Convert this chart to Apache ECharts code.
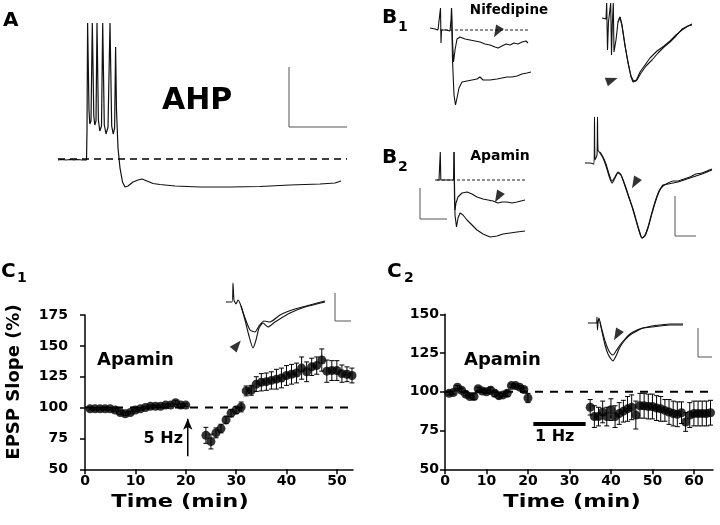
<!DOCTYPE html>
<html><head><meta charset="utf-8">
<script src="https://cdn.jsdelivr.net/npm/echarts@6/dist/echarts.min.js"></script>
<style>html,body{margin:0;padding:0;background:#fff}#c{width:720px;height:525px}</style>
</head><body><div id="c"></div>
<script>
// ---------- Panel C1 (5 Hz, apamin) ----------
const c1Time = [1,2,3,4,5,6,7,8,9,10,11,12,13,14,15,16,17,18,19,20,
  24,25,26,27,28,29,30,31,32,33,34,35,36,37,38,39,40,41,42,43,44,45,46,47,48,49,50,51,52,53];
const c1Slope = [99,99,99,99,99,98,96,95,96,98,99,100,101,101,101,102,102,104,102,102,
  77.5,72.5,79.5,83,90,95.5,98,100.5,113.5,114,119,120.5,121,122,123,124,126,127,128,132,129,133,134,138.5,129.5,130,130,127.5,127,126];
const c1Err = [1,1,1,1,1,1,1.5,1.5,1,1,1,1,1,1,1,1,1,1.5,1,1,
  6.5,6,4,3.5,3,3,3,4,4,4,6,7,7,7,8,8,8,8,8,9,8,7,7,9,9,8,8,7,6,6];
const c1XTicks = [0,10,20,30,40,50];
const c1YTicks = [50,75,100,125,150,175];
const c1Stim = {time:20.4, from:60.5, to:91};

// ---------- Panel C2 (1 Hz, apamin) ----------
const c2Time = [1,2,3,4,5,6,7,8,9,10,11,12,13,14,15,16,17,18,19,20,
  35,36,37,38,39,40,41,42,43,44,45,46,47,48,49,50,51,52,53,54,55,56,57,58,59,60,61,62,63,64];
const c2Slope = [99,99.5,103,101,98.5,97,97,102,100.5,100,101,99,97.5,98,99,104,104,103,101.5,96,
  90,84,84,87,84,88.5,84,86,87.5,89,90,85,91,91,90.5,90.5,89.5,89,88,87,86,85.5,86.5,80.5,85,86,86,86,86,86.5];
const c2Err = [1,1,1,1,1,1,2,1,1,1,2,2,2,1,2,1,1,1,1,3,
  5,7,6,7,6,7,7,7,7,8,8,9,8,8,8,8,8,8,7,8,8,8,7,6,8,8,8,8,8,8];
const c2XTicks = [0,10,20,30,40,50,60];
const c2YTicks = [50,75,100,125,150];
const c2Stim = {from:21.3, to:33.9, level:79.2};

// ---------- Illustrative traces (sampled from the figure, page units) ----------
const traceA = [[58,160],[62,159.5],[66,160],[70,159.5],[74,160],[78,159.5],[82,160],[86.5,160],[87,130],[87.6,23],[88.3,23],[89,110],[89.8,124],[91,121],[92.3,23],[93,23],[93.8,116],[94.8,125],[96,121],[97,23],[97.7,23],[98.4,120],[99.8,131],[101.5,126],[102.7,23],[103.4,23],[104.3,125],[106,134],[108,127],[110,23],[110.8,23],[111.7,126],[113.2,134],[114.6,128],[115.6,47],[116.5,110],[118,148],[120,168],[122.5,182],[125,187],[128,186],[133,182],[138,180],[142,179],[147,181],[153,183.5],[160,184.5],[175,186],[200,187],[230,187],[260,186.5],[290,185],[320,184],[335,183],[341,181]];
const traceB1a = [[430,28],[435,29],[438,30],[440,30],[440.5,8],[441,43],[441.5,30],[446,30],[450,31],[451,20],[451.5,8],[452.5,40],[453.5,62],[455,50],[457,39],[460,37],[465,39],[470,40],[475,41],[480,42],[485,44],[490,45],[495,47],[498,48],[502,46],[506,44],[510,45],[514,43],[518,44],[522,42],[526,41],[528,43]];
const traceB1b = [[451.5,8],[452.5,60],[454,95],[455.5,105],[457,98],[459,88],[462,82],[467,81],[472,80],[477,79],[480,77],[483,80],[490,80],[497,79],[502,78],[507,77],[512,77],[517,76],[522,74],[527,73],[531,72]];
const traceB1c = [[602,18],[606,19],[606.7,3],[607.5,50],[608.5,22],[610.7,3],[611.5,55],[612.3,25],[613.3,3],[614,52],[616,40],[618,22],[620,17],[622,25],[625,45],[628,63],[631,77],[633,82],[636,81],[640,72],[645,65],[650,58],[657,51],[664,46],[670,41],[676,35],[682,30],[688,26],[692,25]];
const traceB1d = [[618,22],[620,17],[622,26],[625,46],[628,62],[631,76],[633.5,81],[637,80],[641,73],[646,66],[652,60],[658,53],[664,47],[670,42],[676,36],[682,29],[688,26],[692,24]];
const traceB2a = [[435,180],[439,180],[440,180],[440.3,152],[440.8,180],[444,180],[450,180],[453.5,180],[454,152],[454.5,200],[455,210],[456,203],[458,197],[462,193],[467,192],[472,194],[477,197],[483,199],[488,200],[493,201],[498,203],[502,202],[507,202],[512,203],[517,202],[521,201],[525,200]];
const traceB2b = [[454,152],[455,215],[456.5,227],[458,218],[460,213],[463,215],[467,220],[472,225],[477,230],[483,234],[490,237],[497,236],[503,234],[510,233],[517,232],[525,231]];
const traceB2c = [[585,163],[590,163],[594,164],[594.5,117],[595,160],[597,155],[597.5,117],[598,150],[600,153],[603,158],[606,166],[609,176],[612,183],[615,178],[618,173],[621,175],[625,185],[629,197],[633,209],[637,223],[640,233],[642,238],[645,236],[648,228],[651,217],[655,203],[659,192],[663,185],[668,184],[673,183],[678,182],[684,180],[690,178],[696,176],[702,174],[707,172],[712,170]];
const traceB2d = [[600,152],[603,157],[606,164],[609,174],[612,181],[615,177],[618,172],[621,175],[625,186],[629,198],[633,210],[637,224],[640,234],[642,238],[645,235],[648,227],[651,216],[655,202],[659,191],[663,186],[668,183],[673,181],[678,181],[684,179],[690,177],[696,174],[702,173],[707,171],[712,169]];
const traceC1a = [[226,302],[232,302],[233,283],[234,300],[236,304],[238,300],[241,306],[245,320],[249,336],[253,348],[256,340],[259,328],[263,323],[268,327],[275,322],[290,313],[305,307],[325,302]];
const traceC1b = [[241,306],[245,318],[250,330],[255,332],[259,326],[264,321],[270,322],[280,315],[295,309],[310,305],[325,301]];
const traceC2a = [[588,323],[594,323],[596.5,323],[597,317],[597.5,330],[598,323],[599,318],[600,322],[602,332],[605,345],[608,354],[611,359],[613,361],[616,356],[620,347],[625,340],[630,335],[637,331],[643,328],[652,327],[660,326],[670,325],[683,325]];
const traceC2b = [[600,322],[602,330],[605,341],[608,349],[611,354],[613,355],[616,351],[620,345],[625,339],[630,334],[637,330],[643,328],[652,326],[660,325],[670,324],[683,324]];
const dashA = [[58,159],[347,159]];
const dashB1 = [[440,30],[528,30]];
const dashB2 = [[437,180],[527,180]];
const scaleBars = [
  [[289,67],[289,127],[347,127]],
  [[420,188],[420,219],[447,219]],
  [[675,196],[675,236],[696,236]],
  [[335,293],[335,321],[351,321]],
  [[698,328],[698,357],[712,357]]
];
const arrowHeads = [[497,32,150],[612,80,-70],[498,197,150],[635,183,150],[237,345,-40],[617,335,150]];

const FONT = 'DejaVu Sans';
const chart = echarts.init(document.getElementById('c'), null, {renderer:'canvas'});

function axisBase(extra){
  return Object.assign({
    type:'value',
    axisLine:{show:true,lineStyle:{color:'#000',width:1.5}},
    axisTick:{show:true,inside:false,length:5,lineStyle:{color:'#000',width:1.5}},
    axisLabel:{color:'#000',fontFamily:FONT,fontWeight:'bold',fontSize:14},
    splitLine:{show:false}
  }, extra);
}

function errRender(params, api){
  const x = api.value(0), v = api.value(1), e = api.value(2);
  const t = api.coord([x, v+e]), b = api.coord([x, v-e]);
  const hw = 2.5, st = {stroke:'#000', lineWidth:1};
  return {type:'group', children:[
    {type:'line', shape:{x1:t[0],y1:t[1],x2:b[0],y2:b[1]}, style:st},
    {type:'line', shape:{x1:t[0]-hw,y1:t[1],x2:t[0]+hw,y2:t[1]}, style:st},
    {type:'line', shape:{x1:b[0]-hw,y1:b[1],x2:b[0]+hw,y2:b[1]}, style:st}
  ]};
}

const c1Pts = c1Time.map((t,i)=>[t,c1Slope[i],c1Err[i]]);
const c2Pts = c2Time.map((t,i)=>[t,c2Slope[i],c2Err[i]]);

function traceSeries(data, opts){
  return Object.assign({type:'line', xAxisIndex:2, yAxisIndex:2, data:data, showSymbol:false, symbol:'none',
    lineStyle:{color:'#111', width:1.1}, silent:true, z:3, animation:false}, opts||{});
}

const series = [
  // C1
  {type:'line', xAxisIndex:0, yAxisIndex:0, data:[[0,100],[53.2,100]], symbol:'none',
    lineStyle:{color:'#000', width:2, type:[8,7]}, z:1},
  {type:'custom', xAxisIndex:0, yAxisIndex:0, data:c1Pts, renderItem:errRender, z:2, encode:{x:0,y:1}},
  {type:'scatter', xAxisIndex:0, yAxisIndex:0, data:c1Pts, symbol:'circle', symbolSize:9,
    itemStyle:{color:'#000'}, z:3, encode:{x:0,y:1}},
  {type:'line', xAxisIndex:0, yAxisIndex:0,
    data:[{value:[c1Stim.time,c1Stim.from],symbol:'none'},{value:[c1Stim.time,c1Stim.to],symbol:'arrow',symbolSize:[7,11]}],
    showSymbol:true, lineStyle:{color:'#000', width:1.5}, itemStyle:{color:'#000'}, z:3},
  // C2
  {type:'line', xAxisIndex:1, yAxisIndex:1, data:[[0,100],[64.6,100]], symbol:'none',
    lineStyle:{color:'#000', width:2, type:[8,7]}, z:1},
  {type:'custom', xAxisIndex:1, yAxisIndex:1, data:c2Pts, renderItem:errRender, z:2, encode:{x:0,y:1}},
  {type:'scatter', xAxisIndex:1, yAxisIndex:1, data:c2Pts, symbol:'circle', symbolSize:9,
    itemStyle:{color:'#000'}, z:3, encode:{x:0,y:1}},
  {type:'line', xAxisIndex:1, yAxisIndex:1, data:[[c2Stim.from,c2Stim.level],[c2Stim.to,c2Stim.level]],
    symbol:'none', lineStyle:{color:'#000', width:4}, z:3},
  // traces
  traceSeries(traceA, {lineStyle:{color:'#111', width:1.2}}),
  traceSeries(traceB1a), traceSeries(traceB1b), traceSeries(traceB1c), traceSeries(traceB1d),
  traceSeries(traceB2a), traceSeries(traceB2b), traceSeries(traceB2c, {smooth:0.2}), traceSeries(traceB2d, {smooth:0.2}),
  traceSeries(traceC1a, {smooth:0.2}), traceSeries(traceC1b, {smooth:0.2}),
  traceSeries(traceC2a, {smooth:0.2}), traceSeries(traceC2b, {smooth:0.2}),
  traceSeries(dashA, {lineStyle:{color:'#000', width:1.5, type:[7,5]}}),
  traceSeries(dashB1, {lineStyle:{color:'#222', width:1, type:[3,2]}}),
  traceSeries(dashB2, {lineStyle:{color:'#222', width:1, type:[3,2]}}),
  ...scaleBars.map(sb => traceSeries(sb, {lineStyle:{color:'#555', width:1}})),
  {type:'scatter', xAxisIndex:2, yAxisIndex:2, data:arrowHeads.map(a=>({value:[a[0],a[1]], symbolRotate:a[2]})),
    symbol:'triangle', symbolSize:[9,12], itemStyle:{color:'#000'}, z:4, silent:true}
];

function txt(text, x, y, size, opts){
  return {type:'text', x:x, y:y, silent:true, z:10,
    style:Object.assign({text:text, fill:'#000', font:'bold '+size+'px "'+FONT+'"', textAlign:'left', textVerticalAlign:'middle'}, opts||{})};
}
const graphics = [
  txt('A', 3, 21, 20),
  txt('B', 382, 18, 20), txt('1', 398, 27, 14),
  txt('B', 382, 158, 20), txt('2', 398, 167, 14),
  txt('C', 1, 272, 20), txt('1', 17, 278, 14),
  txt('C', 387, 272, 20), txt('2', 404, 278, 14),
  txt('AHP', 162, 101, 30),
  txt('Nifedipine', 509, 10, 13.5, {textAlign:'center'}),
  txt('Apamin', 500, 156, 14, {textAlign:'center'}),
  txt('Apamin', 97, 360, 18),
  txt('Apamin', 464, 360, 18),
  txt('5 Hz', 183, 439, 16, {textAlign:'right'}),
  txt('1 Hz', 535, 437, 16),
  {type:'text', x:14, y:382, rotation:Math.PI/2, silent:true, z:10,
    style:{text:'EPSP Slope (%)', fill:'#000', font:'bold 18px "'+FONT+'"', textAlign:'center', textVerticalAlign:'middle'}},
  {type:'text', x:180, y:502, scaleX:1.25, silent:true, z:10,
    style:{text:'Time (min)', fill:'#000', font:'bold 18px "'+FONT+'"', textAlign:'center', textVerticalAlign:'middle'}},
  {type:'text', x:572, y:502, scaleX:1.25, silent:true, z:10,
    style:{text:'Time (min)', fill:'#000', font:'bold 18px "'+FONT+'"', textAlign:'center', textVerticalAlign:'middle'}}
];

chart.setOption({
  animation:false,
  backgroundColor:'#fff',
  grid:[
    {left:85, top:315, width:268, height:154.3},
    {left:445, top:314.3, width:268, height:155},
    {left:0, top:0, width:720, height:525}
  ],
  xAxis:[
    axisBase({gridIndex:0, min:0, max:53.2,
      axisTick:{show:true,length:5,lineStyle:{color:'#000',width:1.5},customValues:c1XTicks},
      axisLabel:{color:'#000',fontFamily:FONT,fontWeight:'bold',fontSize:14,margin:5,customValues:c1XTicks}}),
    axisBase({gridIndex:1, min:0, max:64.6,
      axisTick:{show:true,length:5,lineStyle:{color:'#000',width:1.5},customValues:c2XTicks},
      axisLabel:{color:'#000',fontFamily:FONT,fontWeight:'bold',fontSize:14,margin:5,customValues:c2XTicks}}),
    {gridIndex:2, type:'value', min:0, max:720, show:false}
  ],
  yAxis:[
    axisBase({gridIndex:0, min:50, max:175, interval:25,
      axisLabel:{color:'#000',fontFamily:FONT,fontWeight:'bold',fontSize:14,margin:17,customValues:c1YTicks},
      axisTick:{show:true,length:5,lineStyle:{color:'#000',width:1.5},customValues:c1YTicks}}),
    axisBase({gridIndex:1, min:50, max:150, interval:25,
      axisLabel:{color:'#000',fontFamily:FONT,fontWeight:'bold',fontSize:14,margin:6,customValues:c2YTicks},
      axisTick:{show:true,length:5,lineStyle:{color:'#000',width:1.5},customValues:c2YTicks}}),
    {gridIndex:2, type:'value', min:0, max:525, inverse:true, show:false}
  ],
  series:series,
  graphic:graphics
});
</script></body></html>
